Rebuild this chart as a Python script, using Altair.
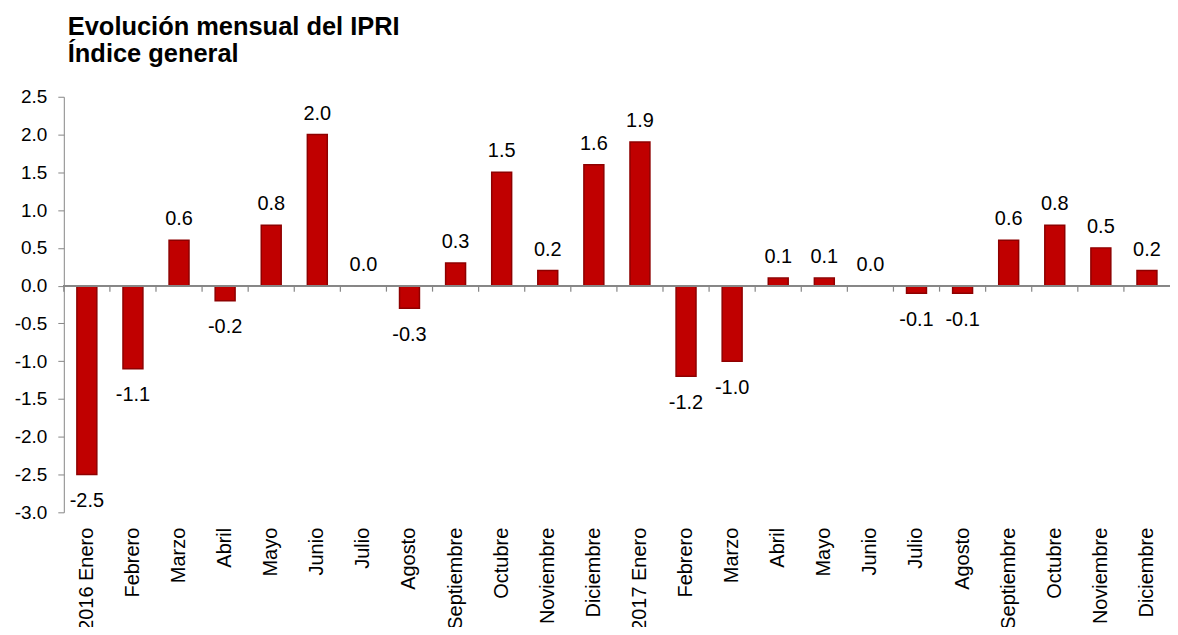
import altair as alt
import pandas as pd

months = ["2016 Enero", "Febrero", "Marzo", "Abril", "Mayo", "Junio", "Julio",
          "Agosto", "Septiembre", "Octubre", "Noviembre", "Diciembre",
          "2017 Enero", "Febrero", "Marzo", "Abril", "Mayo", "Junio", "Julio",
          "Agosto", "Septiembre", "Octubre", "Noviembre", "Diciembre"]
values = [-2.5, -1.1, 0.6, -0.2, 0.8, 2.0, 0.0, -0.3, 0.3, 1.5, 0.2, 1.6,
          1.9, -1.2, -1.0, 0.1, 0.1, 0.0, -0.1, -0.1, 0.6, 0.8, 0.5, 0.2]
y_ticks = [-3.0, -2.5, -2.0, -1.5, -1.0, -0.5, 0.0, 0.5, 1.0, 1.5, 2.0, 2.5]

df = pd.DataFrame({
    "idx": list(range(len(months))),
    "value": values,
    "label": [f"{v:.1f}" for v in values],
})

FONT = "Liberation Sans"
label_arr = "[" + ",".join(f"'{m}'" for m in months) + "]"

x_axis = alt.Axis(labelExpr=f"{label_arr}[datum.value]", labelAngle=-90,
                  labelAlign="right", labelBaseline="middle",
                  domain=False, ticks=False, labelPadding=15,
                  labelFontSize=20, labelFont=FONT, labelColor="black")
x_scale = alt.Scale(paddingInner=0, paddingOuter=0)
x_enc = alt.X("idx:O", title=None, axis=x_axis, scale=x_scale)

y_scale = alt.Scale(domain=[-3.0, 2.5], nice=False, zero=False)
y_axis = alt.Axis(values=y_ticks, grid=False, domainColor="#868686",
                  tickColor="#868686", tickSize=6, labelPadding=11,
                  labelOverlap=False, tickCount=12,
                  labelExpr="replace(format(datum.value, '.1f'), '\u2212', '-')",
                  labelFontSize=19, labelFont=FONT, labelColor="black")
y_enc = alt.Y("value:Q", title=None, scale=y_scale, axis=y_axis)
y_zero = alt.YDatum(0, title=None, scale=y_scale, axis=y_axis)

base = alt.Chart(df)

bars = base.mark_bar(size=20, color="#C00000", stroke="#8E0000", strokeWidth=1.5).encode(
    x=x_enc, y=y_enc, y2=alt.datum(0))

zero = base.mark_rule(color="#868686", strokeWidth=1.2).encode(y=y_zero)

ticks = base.mark_rule(color="#868686", strokeWidth=1.2, y2Offset=6).encode(
    x=alt.X("idx:O", title=None, axis=x_axis, scale=x_scale, bandPosition=0),
    y=y_zero, y2=alt.datum(0))

pos_text = base.transform_filter("datum.value >= 0").mark_text(
    baseline="alphabetic", dy=-15, fontSize=20, font=FONT, color="black").encode(
    x=x_enc, y=y_enc, text="label:N")
neg_text = base.transform_filter("datum.value < 0").mark_text(
    baseline="alphabetic", dy=32.5, fontSize=20, font=FONT, color="black").encode(
    x=x_enc, y=y_enc, text="label:N")

chart = alt.layer(bars, zero, ticks, pos_text, neg_text).properties(
    width=1110, height=417, background="white",
    title=alt.TitleParams(["Evolución mensual del IPRI", "Índice general"],
                          anchor="start", frame="group", fontSize=25.5, font=FONT,
                          fontWeight="bold", color="black", lineHeight=27,
                          offset=20, dx=4),
    autosize=alt.AutoSizeParams(type="none"),
    padding={"left": 56, "top": 88, "right": 0, "bottom": 114},
).configure_view(stroke=None)

chart.save("out.html", embed_options={"renderer": "svg", "actions": False})
